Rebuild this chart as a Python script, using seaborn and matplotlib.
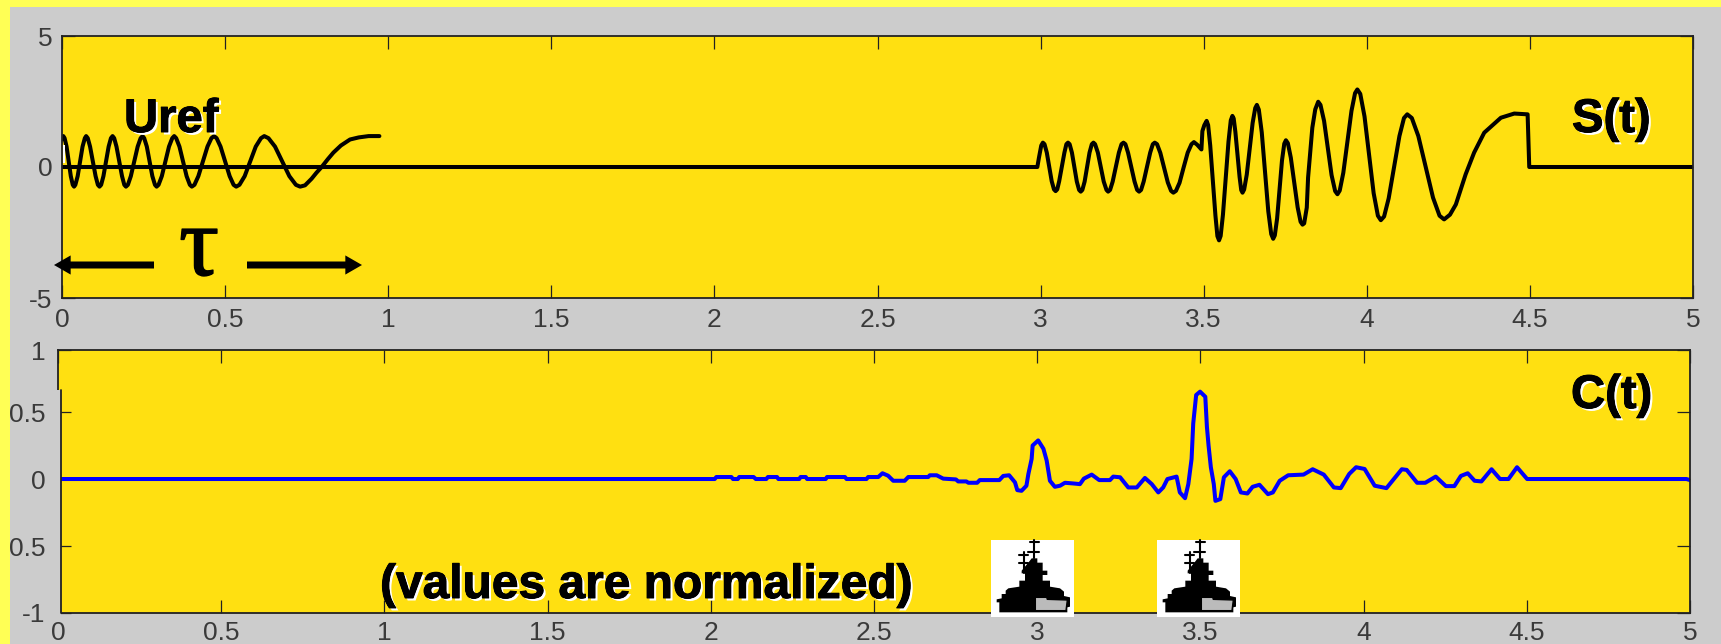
import matplotlib
matplotlib.use('Agg')
import matplotlib.pyplot as plt
import matplotlib.patheffects as pe
from matplotlib.patches import Polygon, Rectangle
import seaborn as sns

sns.set_style('white')
plt.rcParams['font.family'] = ['Liberation Sans', 'DejaVu Sans']

BG_YELLOW = '#FFFF55'
PANEL_GREY = '#CCCCCC'
AX_YELLOW = '#FFE011'
W, H = 1721, 644

# reference pulse
uref_t = [0, .004, .008, .014, .0205, .027, .033,
          .037, .041, .048, .0555, .063, .070,
          .074, .079, .086, .0945, .103, .110,
          .115, .120, .127, .135, .143, .150,
          .155, .160, .167, .1755, .184, .191,
          .196, .202, .211, .2215, .232, .241,
          .247, .252, .260, .2685, .277, .285,
          .29, .296, .306, .317, .328, .338,
          .344, .350, .360, .371, .382, .392,
          .398, .406, .418, .432, .446, .458,
          .466, .474, .486, .500, .514, .526,
          .534, .544, .560, .577, .594, .610,
          .62, .633, .653, .675, .697, .717,
          .73, .745, .765, .78, .796, .815, .832, .855, .883, .91, .94, .973]
uref_v = [1.05, 1.18, 1.1, .78, .215, -.35, -.68,
          -.75, -.68, -.35, .215, .78, 1.1,
          1.18, 1.1, .78, .215, -.35, -.68,
          -.75, -.68, -.35, .215, .78, 1.1,
          1.18, 1.1, .78, .215, -.35, -.68,
          -.75, -.68, -.35, .215, .78, 1.1,
          1.18, 1.1, .78, .215, -.35, -.68,
          -.75, -.68, -.35, .215, .78, 1.1,
          1.18, 1.1, .78, .215, -.35, -.68,
          -.75, -.68, -.35, .215, .78, 1.1,
          1.18, 1.1, .78, .215, -.35, -.68,
          -.75, -.68, -.35, .215, .78, 1.1,
          1.18, 1.1, .78, .215, -.35, -.68,
          -.75, -.7, -.45, -.22, 0, .3, .55, .82, 1.05, 1.13, 1.18, 1.18]

# received signal
s_t = [0, 2.990, 2.995, 3.002,
       3.007, 3.012, 3.019, 3.0265, 3.034, 3.041,
       3.046, 3.051, 3.057, 3.065, 3.073, 3.079,
       3.084, 3.089, 3.096, 3.1035, 3.111, 3.118,
       3.123, 3.128, 3.135, 3.1425, 3.150, 3.157,
       3.162, 3.167, 3.1755, 3.1845, 3.1935, 3.202,
       3.207, 3.213, 3.221, 3.2305, 3.240, 3.248,
       3.254, 3.260, 3.268, 3.278, 3.288, 3.296,
       3.302, 3.308, 3.316, 3.326, 3.336, 3.344,
       3.350, 3.357, 3.367, 3.3785, 3.390, 3.400,
       3.407, 3.415, 3.426, 3.4385, 3.451, 3.4625,
       3.470, 3.480, 3.493, 3.496, 3.502,
       3.509, 3.5136, 3.520, 3.528, 3.536, 3.542,
       3.547, 3.552, 3.559, 3.5675, 3.576, 3.583,
       3.588, 3.592, 3.597, 3.6035, 3.610, 3.615,
       3.619, 3.624, 3.632, 3.641, 3.650, 3.658,
       3.663, 3.669, 3.678, 3.688, 3.698, 3.707,
       3.713, 3.718, 3.725, 3.7325, 3.740, 3.747,
       3.752, 3.758, 3.767, 3.7775, 3.788, 3.797,
       3.803, 3.808, 3.814, 3.816, 3.820, 3.833, 3.842,
       3.851, 3.858, 3.869, 3.8805, 3.892, 3.903,
       3.910, 3.917, 3.928, 3.9405, 3.953, 3.964,
       3.971, 3.980, 3.993, 4.007, 4.021, 4.034,
       4.043, 4.053, 4.067, 4.0835, 4.100, 4.114,
       4.124, 4.138, 4.158, 4.1805, 4.203, 4.223,
       4.237, 4.255, 4.273, 4.303, 4.329, 4.360, 4.411, 4.452, 4.493, 4.498, 5.0]
s_v = [0, 0, .36, .82,
       .93, .87, .55, .005, -.54, -.855,
       -.92, -.855, -.54, .005, .55, .87,
       .93, .87, .55, -.005, -.555, -.875,
       -.94, -.875, -.555, -.005, .55, .87,
       .93, .87, .55, -.005, -.555, -.875,
       -.94, -.875, -.555, -.005, .55, .87,
       .93, .87, .55, -.005, -.555, -.875,
       -.94, -.875, -.555, -.005, .55, .87,
       .93, .87, .54, -.025, -.59, -.91,
       -.98, -.91, -.6, -.015, .55, .87,
       .95, .85, .67, 1.37, 1.6,
       1.76, 1.6, .82, -.52, -1.86, -2.64,
       -2.8, -2.63, -1.82, -.425, .97, 1.78,
       1.95, 1.85, 1.35, .485, -.38, -.88,
       -.98, -.86, -.29, .695, 1.68, 2.25,
       2.37, 2.19, 1.32, -.185, -1.69, -2.56,
       -2.74, -2.61, -1.97, -.86, .25, .89,
       1.02, .91, .36, -.59, -1.54, -2.09,
       -2.2, -2.15, -1.7, -1.55, -.4, 1.5, 2.2,
       2.49, 2.37, 1.76, .725, -.31, -.92,
       -1.04, -.9, -.22, .96, 2.14, 2.82,
       2.96, 2.79, 1.93, .465, -1.0, -1.86,
       -2.03, -1.89, -1.2, -.01, 1.18, 1.87,
       2.01, 1.87, 1.18, .005, -1.17, -1.86,
       -2.0, -1.82, -1.43, -.28, .55, 1.31, 1.88, 2.04, 2.01, 0, 0]

# correlator output, normalized
c_t = [0, 2.012, 2.017, 2.063, 2.068, 2.083, 2.087, 2.131, 2.138, 2.170,
       2.175, 2.203, 2.207, 2.271, 2.275, 2.291, 2.295, 2.352, 2.356, 2.411,
       2.416, 2.477, 2.482, 2.513, 2.526, 2.543, 2.559, 2.594, 2.605, 2.666,
       2.671, 2.692, 2.712, 2.751, 2.758, 2.783, 2.789, 2.816, 2.824, 2.884,
       2.896, 2.914, 2.932, 2.939, 2.952, 2.967, 2.973, 2.983, 2.986, 3.003,
       3.019, 3.029, 3.034, 3.039, 3.054, 3.070, 3.085, 3.110, 3.131, 3.143,
       3.167, 3.190, 3.223, 3.233, 3.254, 3.279, 3.305, 3.330, 3.351, 3.371,
       3.386, 3.399, 3.427, 3.437, 3.453, 3.463, 3.473, 3.478, 3.487, 3.499,
       3.515, 3.520, 3.525, 3.532, 3.541, 3.546, 3.561, 3.572, 3.590, 3.608,
       3.624, 3.644, 3.660, 3.681, 3.707, 3.722, 3.743, 3.769, 3.816, 3.844,
       3.878, 3.909, 3.930, 3.956, 3.977, 4.003, 4.034, 4.070, 4.117, 4.132,
       4.164, 4.189, 4.221, 4.252, 4.278, 4.298, 4.319, 4.340, 4.361, 4.392,
       4.418, 4.444, 4.470, 4.501, 4.989, 5.0]
c_v = [0, 0, .015, .015, 0, 0, .015, .015, 0, 0,
       .015, .015, 0, 0, .015, .015, 0, 0, .015, .015,
       0, 0, .015, .015, .043, .025, -.013, -.013, .015, .015,
       .028, .028, .003, -.003, -.018, -.018, -.028, -.028, -.008, -.008,
       .023, .028, -.025, -.083, -.088, -.05, .038, .15, .25, .288,
       .226, .138, .063, -.013, -.058, -.05, -.028, -.033, -.038, .003,
       .033, -.008, -.008, .018, .013, -.063, -.063, .008, -.038, -.10,
       -.063, 0, .018, -.10, -.143, -.038, .15, .414, .627, .652,
       .614, .388, .25, .088, -.038, -.163, -.15, .013, .058, 0,
       -.10, -.108, -.058, -.043, -.113, -.10, -.013, .028, .033, .073,
       .033, -.063, -.068, .038, .088, .075, -.05, -.068, .073, .068,
       -.028, -.028, .018, -.053, -.053, .023, .043, -.013, -.018, .073,
       0, 0, .088, 0, 0, -.008]

x_ticks = [0, .5, 1, 1.5, 2, 2.5, 3, 3.5, 4, 4.5, 5]
x_labels = ['0', '0.5', '1', '1.5', '2', '2.5', '3', '3.5', '4', '4.5', '5']
top_yticks = [-5, 0, 5]
top_ylabels = ['-5', '0', '5']
# the lower panel is cut just below +1 and the minus of -0.5 is hidden in the source
bot_yticks = [-1, -.5, 0, .5, .963]
bot_ylabels = ['-1', '0.5', '0', '0.5', '1']

# ship silhouette, pixels inside its white box (3x)
ship_hull = [(25, 217), (25, 187), (17, 187), (17, 178), (32, 175), (32, 162), (44, 162), (44, 152),
             (52, 145), (85, 140), (85, 122), (102, 122), (102, 100), (92, 100), (92, 92), (102, 80),
             (112, 68), (122, 55), (139, 55), (139, 68), (155, 68), (155, 92), (169, 92), (169, 105),
             (155, 105), (155, 122), (177, 122), (177, 140), (207, 145), (219, 155), (219, 168),
             (237, 172), (237, 200), (229, 202), (229, 217)]
ship_deck = [(133, 212), (133, 172), (167, 172), (169, 178), (229, 180), (225, 212)]
ship_masts = [((130, 0), (130, 55)), ((117, 5), (145, 5)), ((112, 35), (145, 35)),
              ((99, 35), (99, 100)), ((85, 45), (112, 45)), ((85, 70), (112, 70))]
ship_x = [991, 1157]
ship_y = 540


def px_axes(l, t, r, b):
    return fig.add_axes([l / W, 1 - b / H, (r - l) / W, (b - t) / H])


def style_axes(ax, ylim, yticks, ylabels, xpad, ypad):
    ax.set_facecolor(AX_YELLOW)
    ax.set_xlim(0, 5)
    ax.set_ylim(*ylim)
    ax.set_xticks(x_ticks, x_labels)
    ax.set_yticks(yticks, ylabels)
    ax.tick_params(direction='in', length=9.5, width=.9, color='#222222', top=True, right=True,
                   bottom=True, left=True, labelsize=19, labelcolor='#3a3a3a')
    ax.tick_params(axis='x', pad=xpad)
    ax.tick_params(axis='y', pad=ypad)
    for s in ax.spines.values():
        s.set_visible(True)
        s.set_color('#222222')
        s.set_linewidth(1.3)


def shadow_text(x, y, s, size):
    t = over.text(x, y, s, fontsize=size, fontweight='bold', color='black', va='baseline', ha='left')
    t.set_path_effects([pe.withSimplePatchShadow(offset=(1.8, -1.8), shadow_rgbFace='white', alpha=1),
                        pe.Stroke(linewidth=0.7, foreground='black'), pe.Normal()])


fig = plt.figure(figsize=(W / 100, H / 100), dpi=100, facecolor=BG_YELLOW)

back = fig.add_axes([0, 0, 1, 1], zorder=-1)
back.set_xlim(0, W)
back.set_ylim(H, 0)
back.axis('off')
back.add_patch(Rectangle((10, 7), W, H, color=PANEL_GREY, lw=0))

ax1 = px_axes(62, 36, 1693, 298)
sns.lineplot(x=s_t, y=s_v, ax=ax1, color='black', lw=2.9, sort=False, estimator=None)
sns.lineplot(x=uref_t, y=uref_v, ax=ax1, color='black', lw=2.9, sort=False, estimator=None)
style_axes(ax1, (-5, 5), top_yticks, top_ylabels, 7, 7)

ax2 = px_axes(58, 350, 1690, 613)
sns.lineplot(x=c_t, y=c_v, ax=ax2, color='#0000FF', lw=2.9, sort=False, estimator=None)
style_axes(ax2, (-1, .963), bot_yticks, bot_ylabels, 6, 9)

# annotations live in a pixel-coordinate layer on top
over = fig.add_axes([0, 0, 1, 1], zorder=5)
over.set_xlim(0, W)
over.set_ylim(H, 0)
over.axis('off')

# the source has a pasted strip over the left edge of the lower panel
over.add_patch(Rectangle((56, 390), 4.5, 226, color=PANEL_GREY, lw=0))
over.plot([61, 61], [390, 613], color='#222222', lw=1.3)
over.add_patch(Rectangle((63, 145), 2, 18, color='white', lw=0))

shadow_text(124, 132, 'Uref', 34)
shadow_text(1572, 132, 'S(t)', 34)
shadow_text(1571, 408, 'C(t)', 34)
shadow_text(380, 598, '(values are normalized)', 34.5)

tau = over.text(199, 275, '\u03c4', fontsize=72, family='Liberation Serif', ha='center', va='baseline',
                color='black')
tau.set_path_effects([pe.Stroke(linewidth=1.0, foreground='black'), pe.Normal()])
arrow = dict(arrowstyle='simple,head_length=1.0,head_width=1.15,tail_width=0.42', color='black', lw=0,
             shrinkA=0, shrinkB=0, mutation_scale=12)
over.annotate('', xy=(54, 265), xytext=(154, 265), arrowprops=arrow)
over.annotate('', xy=(362, 265), xytext=(247, 265), arrowprops=arrow)

for sx in ship_x:
    over.add_patch(Rectangle((sx, ship_y), 83, 77, color='white', lw=0))
    over.add_patch(Polygon([(sx + a / 3, ship_y + b / 3) for a, b in ship_hull], color='black', lw=0))
    over.add_patch(Polygon([(sx + a / 3, ship_y + b / 3) for a, b in ship_deck], facecolor='#BBBBBB',
                           edgecolor='black', lw=1))
    for (a0, b0), (a1, b1) in ship_masts:
        over.plot([sx + a0 / 3, sx + a1 / 3], [ship_y + b0 / 3, ship_y + b1 / 3], color='black', lw=1.5)

fig.savefig('out.png', dpi=100, facecolor=fig.get_facecolor())
